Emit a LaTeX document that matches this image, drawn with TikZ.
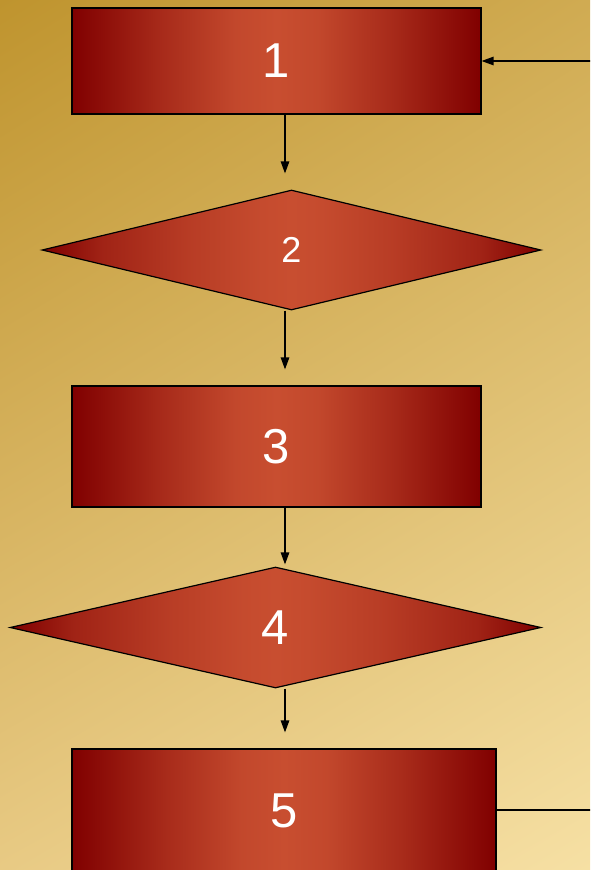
\documentclass[tikz,border=0pt]{standalone}
\usepackage{fontspec}
\setmainfont{Liberation Sans}
\usetikzlibrary{shapes.geometric,arrows.meta,shadings}
\definecolor{reddark}{HTML}{800000}
\definecolor{redlight}{HTML}{C84E30}
\definecolor{bgtl}{HTML}{BF942E}
\definecolor{bgtr}{HTML}{D0AB52}
\definecolor{bgbl}{HTML}{E8CA84}
\definecolor{bgbr}{HTML}{F6E0A4}
\pgfdeclarehorizontalshading{choiceshade}{100bp}{color(0bp)=(reddark); color(25bp)=(reddark); color(31bp)=(reddark!55!redlight); color(40bp)=(reddark!22!redlight); color(47bp)=(reddark!4!redlight); color(50bp)=(redlight); color(53bp)=(reddark!4!redlight); color(60bp)=(reddark!22!redlight); color(69bp)=(reddark!55!redlight); color(75bp)=(reddark); color(100bp)=(reddark)}
\pgfdeclarehorizontalshading{boxshade}{100bp}{color(0bp)=(reddark); color(25bp)=(reddark); color(36bp)=(reddark!45!redlight); color(45bp)=(reddark!8!redlight); color(50bp)=(redlight); color(55bp)=(reddark!8!redlight); color(64bp)=(reddark!45!redlight); color(75bp)=(reddark); color(100bp)=(reddark)}

\begin{document}
\begin{tikzpicture}[x=1pt,y=-1pt,
    box/.style={rectangle,draw=black,line width=1.2pt,inner sep=0pt,
      shading=boxshade,
      text=white,font=\fontsize{49}{49}\selectfont},
    choice/.style={diamond,draw=black,line width=1.2pt,inner sep=0pt,
      shading=choiceshade,text=white,font=\fontsize{49}{49}\selectfont},
    flow/.style={line width=1.3pt,-{Triangle[length=12pt,width=8.5pt]}}]
      \useasboundingbox (0,0) rectangle (590,870);
      \clip (0,0) rectangle (590,870);
      \shade[upper left=bgtl,upper right=bgtr,lower left=bgbl,lower right=bgbr] (0,0) rectangle (590,870);
      % steps and choices
      \node[box,minimum width=409pt,minimum height=106pt] (b1) at (276.5,61) {1};
      \node[choice,minimum width=499pt,minimum height=120pt,font=\fontsize{36}{36}\selectfont] (d2) at (291.5,250) {2};
      \node[box,minimum width=409pt,minimum height=121pt] (b3) at (276.5,446.5) {3};
      \node[choice,minimum width=531pt,minimum height=121pt] (d4) at (275.5,627.5) {4};
      \node[box,minimum width=424pt,minimum height=123pt] (b5) at (284,810.5) {5};
      % connectors
      \coordinate (col) at (285,0);
      \coordinate (r1) at (592,61);
      \coordinate (r5) at (592,810);
      \draw[flow,shorten >=16pt] (b1.south -| col) -- (d2.north -| col);
      \draw[flow,shorten >=16pt] (d2.south -| col) -- (b3.north -| col);
      \draw[flow,shorten >=2pt] (b3.south -| col) -- (d4.north -| col);
      \draw[flow,shorten >=16pt] (d4.south -| col) -- (b5.north -| col);
      \draw[line width=1.3pt] (b5.east |- r5) -- (r5);
      \draw[flow] (r1) -- (b1.east);
    \end{tikzpicture}
\end{document}
